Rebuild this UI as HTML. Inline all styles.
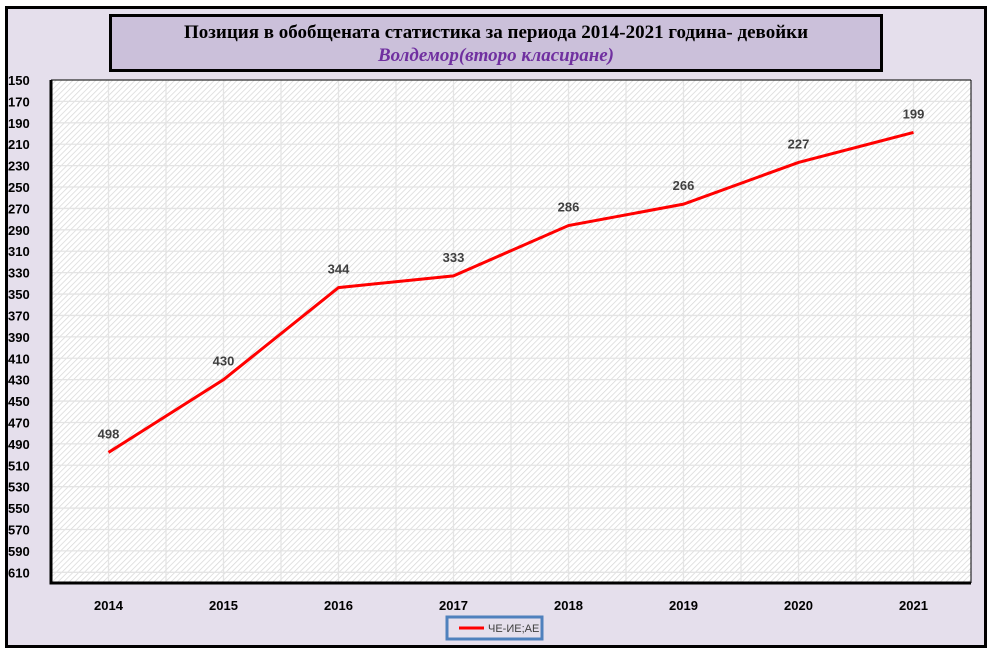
<!DOCTYPE html>
<html><head><meta charset="utf-8"><style>
body{margin:0;width:992px;height:654px;background:#fff;overflow:hidden;font-family:"Liberation Sans",sans-serif}
#frame{position:absolute;left:5px;top:6px;width:976px;height:636px;border:3px solid #000;background:#e5dfec}
#title{position:absolute;left:109px;top:14px;width:768px;height:52px;border:3px solid #000;background:#cbc0da;text-align:center;font-family:"Liberation Serif",serif;font-weight:bold}
#t1{font-size:19px;margin-top:5px;color:#000}
#t2{font-size:19px;font-style:italic;color:#7030a0;margin-top:1px}
svg{position:absolute;left:0;top:0}
</style></head><body>
<div id="frame"></div>
<div id="title"><div id="t1">Позиция в обобщената статистика за периода 2014-2021  година- девойки</div><div id="t2">Волдемор(второ  класиране)</div></div>
<svg id="c" width="992" height="654">
<defs><pattern id="hatch" width="4" height="4" patternUnits="userSpaceOnUse" patternTransform="rotate(45)"><rect width="4" height="4" fill="#fff"/><line x1="0" y1="0" x2="0" y2="4" stroke="#d8d8d8" stroke-width="1.5"/></pattern></defs>
</svg>
<script>
const categories=["2014","2015","2016","2017","2018","2019","2020","2021"];
const values=[498,430,344,333,286,266,227,199];
const yTicks=[150,170,190,210,230,250,270,290,310,330,350,370,390,410,430,450,470,490,510,530,550,570,590,610];
const L=51,R=971,T=80,B=583,yMin=150,yMax=620;
const svg=document.getElementById('c');const NS='http://www.w3.org/2000/svg';
function y(v){return T+(v-yMin)/(yMax-yMin)*(B-T);}
const band=(R-L)/categories.length;
function x(i){return L+band*(i+0.5);}
function mk(t,a,p){const e=document.createElementNS(NS,t);for(const k in a)e.setAttribute(k,a[k]);(p||svg).appendChild(e);return e;}
const bg=mk('rect',{x:L,y:T,width:R-L,height:B-T,fill:'url(#hatch)'});


yTicks.forEach(v=>{const g=mk('line',{x1:L,x2:R,y1:y(v),y2:y(v),stroke:'#e4e4e4','stroke-width':1.3});


const t=mk('text',{x:8,y:y(v)+5,'font-size':13,'font-weight':'bold',fill:'#000'});t.textContent=v;

});
for(let i=1;i<categories.length*2;i++){const g=mk('line',{x1:L+band/2*i,x2:L+band/2*i,y1:T,y2:B,stroke:'#e4e4e4','stroke-width':1.3});

}
const ax=mk('polyline',{points:`${L},${T} ${L},${B} ${R},${B}`,fill:'none',stroke:'#000','stroke-width':3});


const tl=mk('line',{x1:L,x2:R,y1:T,y2:T,stroke:'#000','stroke-width':1});


const rl=mk('line',{x1:R,x2:R,y1:T,y2:B,stroke:'#000','stroke-width':1});


categories.forEach((c,i)=>{const t=mk('text',{x:x(i),y:610,'font-size':13,'font-weight':'bold','text-anchor':'middle',fill:'#000'});t.textContent=c;

});
const line=mk('polyline',{points:values.map((v,i)=>x(i)+','+y(v)).join(' '),fill:'none',stroke:'#ff0000','stroke-width':3});


values.forEach((v,i)=>{const t=mk('text',{x:x(i),y:y(v)-14,'font-size':13,'font-weight':'bold','text-anchor':'middle',fill:'#404040'});t.textContent=v;

});
const lg=mk('rect',{x:447,y:617,width:95,height:22,fill:'#e5dfec',stroke:'#4f81bd','stroke-width':3});


const ll=mk('line',{x1:459,x2:484,y1:628,y2:628,stroke:'#ff0000','stroke-width':3});


const lt=mk('text',{x:488,y:632,'font-size':11,fill:'#404040'});lt.textContent='ЧЕ-ИЕ;АЕ';


</script>
</body></html>
